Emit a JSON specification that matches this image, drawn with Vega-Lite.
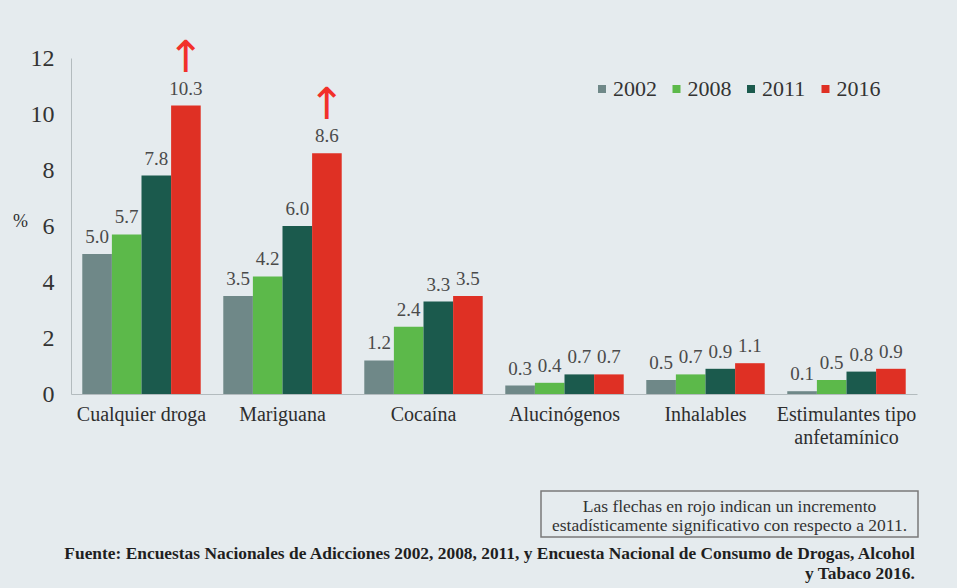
{
  "$schema": "https://vega.github.io/schema/vega-lite/v6.json",
  "background": "#e5ebee",
  "padding": {"left": 12, "top": 36, "right": 45, "bottom": 15},
  "config": {
    "view": {"stroke": null},
    "font": "Liberation Serif",
    "axis": {"labelFont": "Liberation Serif", "titleFont": "Liberation Serif"},
    "legend": {"labelFont": "Liberation Serif", "titleFont": "Liberation Serif"},
    "text": {"font": "Liberation Serif"},
    "title": {"font": "Liberation Serif"},
    "concat": {"spacing": 43}
  },
  "title": {
    "text": ["Fuente: Encuestas Nacionales de Adicciones 2002, 2008, 2011, y Encuesta Nacional de Consumo de Drogas, Alcohol", "y Tabaco 2016."],
    "orient": "bottom",
    "anchor": "end",
    "align": "right",
    "font": "Liberation Serif",
    "fontSize": 17.4,
    "fontWeight": "bold",
    "color": "#1f1f1f",
    "offset": 7,
    "dx": -4,
    "lineHeight": 20
  },
  "vconcat": [
    {
      "width": 846,
      "height": 336,
      "data": {
        "values": [
          {"sustancia": "Cualquier droga", "anio": "2002", "valor": 5.0, "sig": false},
          {"sustancia": "Cualquier droga", "anio": "2008", "valor": 5.7, "sig": false},
          {"sustancia": "Cualquier droga", "anio": "2011", "valor": 7.8, "sig": false},
          {"sustancia": "Cualquier droga", "anio": "2016", "valor": 10.3, "sig": true},
          {"sustancia": "Mariguana", "anio": "2002", "valor": 3.5, "sig": false},
          {"sustancia": "Mariguana", "anio": "2008", "valor": 4.2, "sig": false},
          {"sustancia": "Mariguana", "anio": "2011", "valor": 6.0, "sig": false},
          {"sustancia": "Mariguana", "anio": "2016", "valor": 8.6, "sig": true},
          {"sustancia": "Cocaína", "anio": "2002", "valor": 1.2, "sig": false},
          {"sustancia": "Cocaína", "anio": "2008", "valor": 2.4, "sig": false},
          {"sustancia": "Cocaína", "anio": "2011", "valor": 3.3, "sig": false},
          {"sustancia": "Cocaína", "anio": "2016", "valor": 3.5, "sig": false},
          {"sustancia": "Alucinógenos", "anio": "2002", "valor": 0.3, "sig": false},
          {"sustancia": "Alucinógenos", "anio": "2008", "valor": 0.4, "sig": false},
          {"sustancia": "Alucinógenos", "anio": "2011", "valor": 0.7, "sig": false},
          {"sustancia": "Alucinógenos", "anio": "2016", "valor": 0.7, "sig": false},
          {"sustancia": "Inhalables", "anio": "2002", "valor": 0.5, "sig": false},
          {"sustancia": "Inhalables", "anio": "2008", "valor": 0.7, "sig": false},
          {"sustancia": "Inhalables", "anio": "2011", "valor": 0.9, "sig": false},
          {"sustancia": "Inhalables", "anio": "2016", "valor": 1.1, "sig": false},
          {"sustancia": "Estimulantes tipo anfetamínico", "anio": "2002", "valor": 0.1, "sig": false},
          {"sustancia": "Estimulantes tipo anfetamínico", "anio": "2008", "valor": 0.5, "sig": false},
          {"sustancia": "Estimulantes tipo anfetamínico", "anio": "2011", "valor": 0.8, "sig": false},
          {"sustancia": "Estimulantes tipo anfetamínico", "anio": "2016", "valor": 0.9, "sig": false}
        ]
      },
      "encoding": {
        "x": {
          "field": "sustancia",
          "type": "nominal",
          "sort": null,
          "scale": {"paddingInner": 0.16, "paddingOuter": 0.08},
          "axis": {
            "title": null,
            "labelAngle": 0,
            "ticks": false,
            "labelFont": "Liberation Serif",
            "labelFontSize": 20,
            "labelColor": "#2e2e2e",
            "labelPadding": 10,
            "labelLineHeight": 23,
            "labelExpr": "datum.label == 'Estimulantes tipo anfetamínico' ? ['Estimulantes tipo', 'anfetamínico'] : datum.label",
            "domainColor": "#b3bbbe"
          }
        },
        "xOffset": {"field": "anio", "type": "nominal", "sort": ["2002", "2008", "2011", "2016"]},
        "y": {
          "field": "valor",
          "type": "quantitative",
          "scale": {"domain": [0, 12]},
          "axis": {
            "title": "%",
            "titleAngle": 0,
            "titleBaseline": "alphabetic",
            "titleFont": "Liberation Serif",
            "titleFontSize": 18,
            "titleFontWeight": "normal",
            "titleColor": "#2e2e2e",
            "titlePadding": 10,
            "values": [0, 2, 4, 6, 8, 10, 12],
            "ticks": false,
            "grid": false,
            "labelFont": "Liberation Serif",
            "labelFontSize": 24,
            "labelColor": "#333333",
            "labelPadding": 17,
            "domainColor": "#b3bbbe"
          }
        }
      },
      "layer": [
        {
          "mark": {"type": "bar"},
          "encoding": {
            "color": {
              "field": "anio",
              "type": "nominal",
              "scale": {"domain": ["2002", "2008", "2011", "2016"], "range": ["#6f8888", "#5cb94a", "#1b5a4d", "#df3024"]},
              "legend": {
                "orient": "none",
                "legendX": 520,
                "legendY": 20,
                "direction": "horizontal",
                "title": null,
                "symbolType": "square",
                "symbolSize": 64,
                "symbolStrokeWidth": 0,
                "labelFont": "Liberation Serif",
                "labelFontSize": 22,
                "labelColor": "#333333",
                "columnPadding": 8.5,
                "labelOffset": 0
              }
            }
          }
        },
        {
          "mark": {"type": "text", "font": "Liberation Serif", "baseline": "alphabetic", "dy": -11, "fontSize": 19, "color": "#4a4a4a"},
          "encoding": {"text": {"field": "valor", "type": "quantitative", "format": ".1f"}}
        },
        {
          "transform": [{"filter": "datum.sig"}],
          "mark": {"type": "text", "text": "↑", "font": "DejaVu Sans", "fontSize": 44, "baseline": "bottom", "dy": -25, "color": "#f2302a"},
          "encoding": {}
        }
      ]
    },
    {
      "hconcat": [
        {
          "width": 469,
          "height": 46,
          "data": {"values": [{"t": ""}]},
          "mark": {"type": "text"},
          "encoding": {"text": {"field": "t"}}
        },
        {
          "width": 377,
          "height": 46,
          "view": {"stroke": "#7a7a7a", "strokeWidth": 1.5},
          "data": {"values": [{"nota": ["Las flechas en rojo indican un incremento", "estadísticamente significativo con respecto a 2011."]}]},
          "mark": {"type": "text", "font": "Liberation Serif", "align": "center", "baseline": "middle", "dy": -7, "fontSize": 17.5, "lineHeight": 19, "color": "#333333"},
          "encoding": {"text": {"field": "nota"}}
        }
      ],
      "spacing": 0
    }
  ]
}
